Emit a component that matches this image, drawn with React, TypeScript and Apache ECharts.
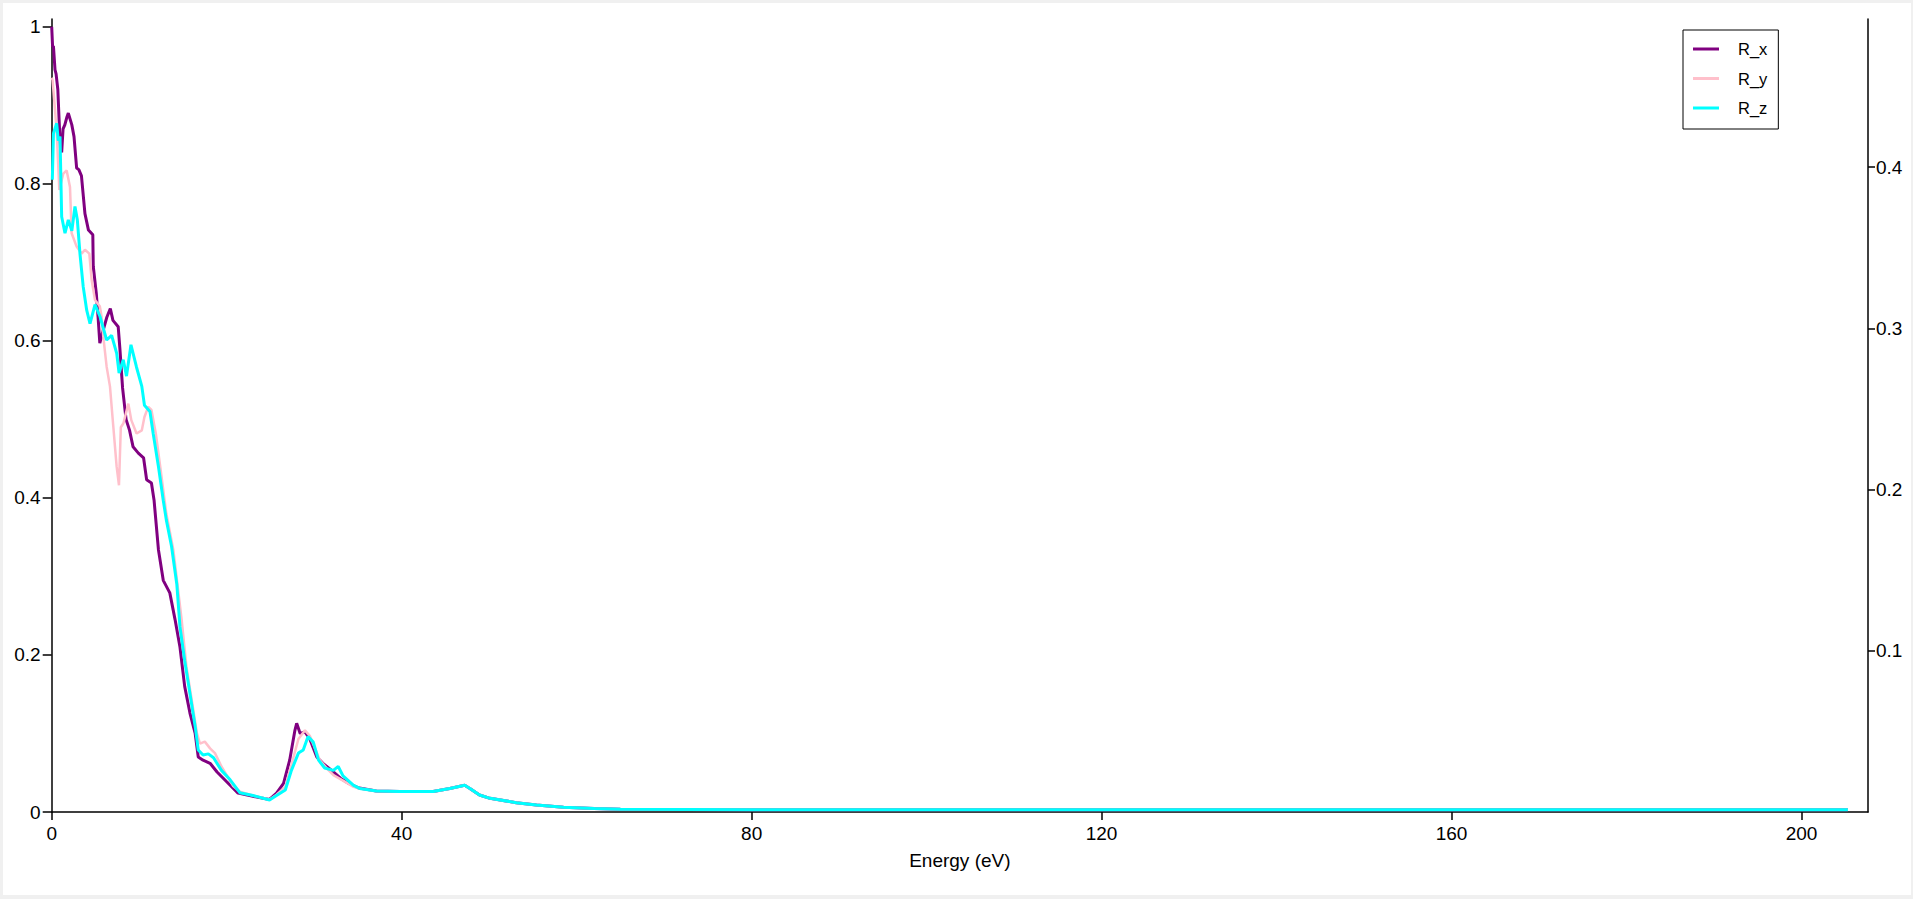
import React, { useEffect, useRef } from "react";
import * as echarts from "echarts";

const xTicks = [0, 40, 80, 120, 160, 200];
const yLeftTicks = [0, 0.2, 0.4, 0.6, 0.8, 1];
const yRightTicks = [0.1, 0.2, 0.3, 0.4];

const seriesNames = ["R_x", "R_y", "R_z"];
const seriesColors = ["#800080", "#ffc0cb", "#00ffff"];

// R_x
const rxEnergy = [0, 0.1, 0.2, 0.38, 0.5, 0.7, 0.85, 1.0, 1.14, 1.3, 1.5, 1.74, 1.9, 2.3, 2.55, 2.85, 3.1, 3.4, 3.8, 4.2, 4.7, 4.75, 5.1, 5.3, 5.5, 5.8, 6.3, 6.7, 7.0, 7.6, 7.8, 8.1, 8.5, 8.9, 9.3, 9.9, 10.5, 10.85, 11.4, 11.7, 12.2, 12.75, 13.5, 14.1, 14.66, 15.2, 15.8, 16.4, 16.75, 17.3, 18.1, 18.9, 20.0, 21.3, 23.0, 24.9, 25.7, 26.5, 27.2, 27.8, 28.0, 28.4, 28.95, 29.5, 30.3, 31.0, 32.0, 33.0, 34.0, 35.0];
const rxValues = [1.0, 0.975, 0.975, 0.945, 0.94, 0.92, 0.88, 0.845, 0.84, 0.87, 0.875, 0.885, 0.89, 0.875, 0.86, 0.82, 0.818, 0.81, 0.762, 0.741, 0.735, 0.695, 0.66, 0.63, 0.597, 0.61, 0.63, 0.641, 0.626, 0.618, 0.589, 0.54, 0.5, 0.486, 0.465, 0.457, 0.451, 0.423, 0.419, 0.397, 0.334, 0.295, 0.279, 0.245, 0.21, 0.16, 0.126, 0.1, 0.07, 0.066, 0.062, 0.051, 0.0386, 0.024, 0.02, 0.016, 0.024, 0.0365, 0.066, 0.104, 0.113, 0.1, 0.102, 0.093, 0.07, 0.062, 0.053, 0.043, 0.036, 0.031];

// R_y
const ryEnergy = [0, 0.1, 0.38, 0.6, 0.87, 1.33, 1.71, 2.09, 2.28, 2.85, 3.42, 3.8, 4.3, 4.57, 4.95, 5.5, 5.7, 5.9, 6.28, 6.66, 7.04, 7.42, 7.69, 7.9, 8.2, 8.76, 9.1, 9.7, 10.3, 10.6, 11.04, 11.4, 11.9, 12.4, 12.75, 13.1, 13.9, 14.85, 15.4, 16.0, 16.6, 16.95, 17.5, 18.1, 18.66, 19.4, 20.75, 21.5, 23.0, 24.9, 25.7, 26.7, 27.4, 28.2, 28.95, 29.5, 30.65, 31.5, 32.2, 33.3, 34.5, 35.2];
const ryValues = [0.935, 0.932, 0.894, 0.86, 0.792, 0.813, 0.817, 0.796, 0.737, 0.72, 0.711, 0.716, 0.711, 0.677, 0.652, 0.644, 0.631, 0.605, 0.567, 0.542, 0.491, 0.44, 0.416, 0.49, 0.495, 0.52, 0.499, 0.482, 0.486, 0.503, 0.516, 0.512, 0.482, 0.44, 0.41, 0.38, 0.334, 0.245, 0.185, 0.143, 0.1, 0.087, 0.0896, 0.081, 0.075, 0.058, 0.033, 0.026, 0.021, 0.016, 0.022, 0.032, 0.06, 0.093, 0.104, 0.097, 0.066, 0.055, 0.047, 0.04, 0.032, 0.03];

// R_z
const rzEnergy = [0.07, 0.2, 0.57, 0.75, 0.95, 1.14, 1.52, 1.9, 2.3, 2.66, 2.93, 3.23, 3.6, 4.0, 4.38, 4.95, 5.52, 6.28, 6.85, 7.43, 7.7, 8.18, 8.55, 9.06, 9.68, 10.3, 10.6, 11.23, 11.6, 12.2, 12.75, 13.1, 13.7, 14.3, 14.66, 15.2, 15.8, 16.4, 16.75, 17.3, 17.9, 18.5, 19.4, 20.4, 21.5, 23.0, 24.9, 25.7, 26.7, 27.4, 28.2, 28.75, 29.3, 29.9, 30.5, 31.2, 32.2, 32.75, 33.3, 34.5, 35.2];
const rzValues = [0.805, 0.864, 0.877, 0.855, 0.86, 0.758, 0.737, 0.754, 0.74, 0.771, 0.754, 0.711, 0.669, 0.639, 0.622, 0.646, 0.631, 0.601, 0.607, 0.584, 0.559, 0.576, 0.555, 0.595, 0.567, 0.542, 0.518, 0.51, 0.482, 0.44, 0.397, 0.372, 0.338, 0.29, 0.236, 0.193, 0.151, 0.109, 0.079, 0.0726, 0.074, 0.069, 0.053, 0.041, 0.0246, 0.021, 0.0153, 0.021, 0.028, 0.053, 0.075, 0.079, 0.096, 0.089, 0.066, 0.056, 0.053, 0.058, 0.046, 0.034, 0.03];

// common high-energy tail (all three curves coincide)
const tailEnergy = [37.1, 39.8, 43.6, 45.5, 47.2, 47.8, 48.9, 50.1, 53.1, 55.4, 58.5, 62.0, 65.0, 80, 120, 160, 205.3];
const tailValues = [0.0267, 0.026, 0.026, 0.03, 0.034, 0.03, 0.0216, 0.0174, 0.0119, 0.0089, 0.006, 0.0045, 0.0034, 0.003, 0.003, 0.003, 0.003];

const energies = [rxEnergy, ryEnergy, rzEnergy];
const values = [rxValues, ryValues, rzValues];
const lineWidths = [3, 2.5, 3];

const FONT = "'Liberation Sans', Arial, sans-serif";

export default function App() {
  const ref = useRef<HTMLDivElement>(null);
  useEffect(() => {
    if (!ref.current) return;
    const chart = echarts.init(ref.current, null, { renderer: "svg" });
    const series = seriesNames.map((name, i) => {
      const xs = energies[i].concat(tailEnergy);
      const ys = values[i].concat(tailValues);
      return {
        name,
        type: "line",
        yAxisIndex: 0,
        showSymbol: false,
        symbol: "none",
        data: xs.map((x, j) => [x, ys[j]]),
        lineStyle: { color: seriesColors[i], width: lineWidths[i] },
        itemStyle: { color: seriesColors[i] },
        z: 2 + i,
      };
    });
    const axisLineStyle = { color: "#000", width: 1.5 };
    chart.setOption({
      animation: false,
      backgroundColor: "#fff",
      textStyle: { fontFamily: FONT },
      grid: { left: 48.7, right: 43, top: 16, bottom: 83, containLabel: false },
      legend: {
        data: seriesNames,
        orient: "vertical",
        left: 1680,
        top: 27,
        icon: "rect",
        itemWidth: 26,
        itemHeight: 3,
        itemGap: 9.5,
        padding: [9, 11, 11, 10],
        borderColor: "#000",
        borderWidth: 1,
        backgroundColor: "#fff",
        textStyle: { fontSize: 16.5, color: "#000", fontFamily: FONT, lineHeight: 20, padding: [0, 0, 0, 14] },
      },
      xAxis: {
        type: "value",
        min: 0,
        max: 207.6,
        interval: 40,
        name: "Energy (eV)",
        nameLocation: "middle",
        nameGap: 39,
        nameTextStyle: { fontSize: 19, color: "#000", fontFamily: FONT },
        axisLine: { show: true, lineStyle: axisLineStyle },
        axisTick: { show: true, length: 8, lineStyle: axisLineStyle, customValues: xTicks },
        axisLabel: { fontSize: 19, color: "#000", margin: 12, customValues: xTicks, fontFamily: FONT },
        splitLine: { show: false },
      },
      yAxis: [
        {
          type: "value",
          position: "left",
          min: 0,
          max: 1.0098,
          interval: 0.2,
          axisLine: { show: true, lineStyle: axisLineStyle },
          axisTick: { show: true, length: 9, lineStyle: axisLineStyle, customValues: yLeftTicks },
          axisLabel: { fontSize: 19, color: "#000", margin: 11, customValues: yLeftTicks, fontFamily: FONT },
          splitLine: { show: false },
        },
        {
          type: "value",
          position: "right",
          min: 0,
          max: 0.4918,
          interval: 0.1,
          axisLine: { show: true, lineStyle: axisLineStyle },
          axisTick: { show: true, length: 7, lineStyle: axisLineStyle, customValues: yRightTicks },
          axisLabel: { fontSize: 19, color: "#000", margin: 8, customValues: yRightTicks, fontFamily: FONT },
          splitLine: { show: false },
        },
      ],
      series,
    });
    return () => chart.dispose();
  }, []);
  return (
    <div style={{ position: "fixed", left: 0, top: 0, width: 1913, height: 899, background: "#f0f0f0" }}>
      <div ref={ref} style={{ position: "absolute", left: 3, top: 3, width: 1908, height: 892, background: "#fff" }} />
    </div>
  );
}
